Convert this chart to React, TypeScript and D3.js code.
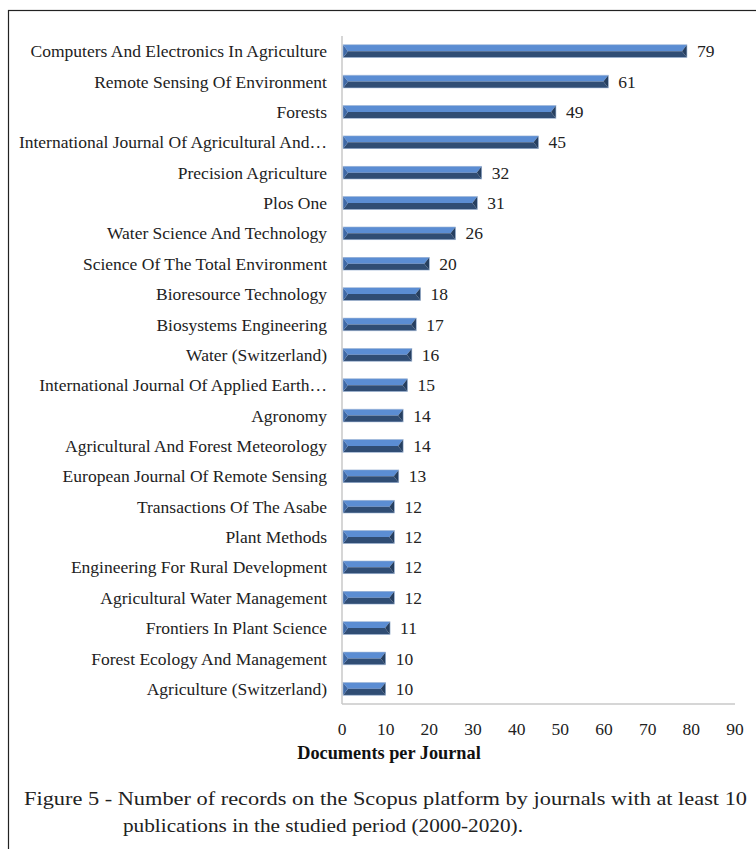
import React, { useEffect, useRef } from 'react';
import * as d3 from 'd3';

const journals = [
  'Computers And Electronics In Agriculture',
  'Remote Sensing Of Environment',
  'Forests',
  'International Journal Of Agricultural And…',
  'Precision Agriculture',
  'Plos One',
  'Water Science And Technology',
  'Science Of The Total Environment',
  'Bioresource Technology',
  'Biosystems Engineering',
  'Water (Switzerland)',
  'International Journal Of Applied Earth…',
  'Agronomy',
  'Agricultural And Forest Meteorology',
  'European Journal Of Remote Sensing',
  'Transactions Of The Asabe',
  'Plant Methods',
  'Engineering For Rural Development',
  'Agricultural Water Management',
  'Frontiers In Plant Science',
  'Forest Ecology And Management',
  'Agriculture (Switzerland)',
];
const documents = [79, 61, 49, 45, 32, 31, 26, 20, 18, 17, 16, 15, 14, 14, 13, 12, 12, 12, 12, 11, 10, 10];
const xTicks = [0, 10, 20, 30, 40, 50, 60, 70, 80, 90];

const W = 756;
const H = 849;
const serif = '"Liberation Serif", "Times New Roman", serif';

export default function App() {
  const svgRef = useRef<SVGSVGElement>(null);

  useEffect(() => {
    if (!svgRef.current) return;
    const svg = d3.select(svgRef.current);
    svg.selectAll('*').remove();

    const left = 342;
    const right = 735;
    const top = 36;
    const bottom = 704;

    // frame around the figure
    svg.append('rect')
      .attr('x', 8.5).attr('y', 10.5)
      .attr('width', 800).attr('height', 900)
      .attr('fill', 'none')
      .attr('stroke', '#222')
      .attr('stroke-width', 1.2);

    const x = d3.scaleLinear().domain([0, 90]).range([left, right]);
    const y = d3.scaleBand<string>()
      .domain(journals)
      .range([top, bottom])
      .paddingInner(0.58)
      .paddingOuter(0.29);

    const g = svg.append('g');

    // axes lines
    g.append('line')
      .attr('x1', left).attr('x2', right)
      .attr('y1', bottom).attr('y2', bottom)
      .attr('stroke', '#c8c8c8').attr('stroke-width', 1.5);
    g.append('line')
      .attr('x1', left).attr('x2', left)
      .attr('y1', top).attr('y2', bottom)
      .attr('stroke', '#c8c8c8').attr('stroke-width', 1.5);

    // bars with bevelled look
    const h = y.bandwidth();
    const d = 5;
    journals.forEach((name, i) => {
      const x0 = x(0) + 1;
      const x1 = x(documents[i]);
      const y0 = y(name)!;
      const mid = y0 + h / 2;
      const y1 = y0 + h;
      const bar = g.append('g');
      bar.append('polygon')
        .attr('points', `${x0},${y0} ${x1},${y0} ${x1 - d},${mid} ${x0 + d},${mid}`)
        .attr('fill', '#5b8dd3');
      bar.append('polygon')
        .attr('points', `${x0 + d},${mid} ${x1 - d},${mid} ${x1},${y1} ${x0},${y1}`)
        .attr('fill', '#304d74');
      bar.append('polygon')
        .attr('points', `${x0},${y0} ${x0 + d},${mid} ${x0},${y1}`)
        .attr('fill', '#3f69a6');
      bar.append('polygon')
        .attr('points', `${x1},${y0} ${x1},${y1} ${x1 - d},${mid}`)
        .attr('fill', '#263f60');
      bar.append('rect')
        .attr('x', x0).attr('y', y0)
        .attr('width', x1 - x0).attr('height', h)
        .attr('fill', 'none')
        .attr('stroke', '#9fb6d6').attr('stroke-width', 0.6);

      g.append('text')
        .attr('x', x1 + 10)
        .attr('y', mid)
        .attr('dy', '0.35em')
        .attr('font-family', serif)
        .attr('font-size', 17.5)
        .attr('fill', '#222')
        .text(documents[i]);

      g.append('text')
        .attr('x', left - 15)
        .attr('y', mid)
        .attr('dy', '0.35em')
        .attr('text-anchor', 'end')
        .attr('font-family', serif)
        .attr('font-size', 17.5)
        .attr('fill', '#222')
        .text(name);
    });

    // x tick labels
    xTicks.forEach(t => {
      g.append('text')
        .attr('x', x(t))
        .attr('y', 729)
        .attr('dy', '0.35em')
        .attr('text-anchor', 'middle')
        .attr('font-family', serif)
        .attr('font-size', 17.5)
        .attr('fill', '#222')
        .text(t);
    });

    g.append('text')
      .attr('x', 389)
      .attr('y', 753)
      .attr('dy', '0.35em')
      .attr('text-anchor', 'middle')
      .attr('font-family', serif)
      .attr('font-size', 18.3)
      .attr('font-weight', 'bold')
      .attr('fill', '#111')
      .text('Documents per Journal');

    // caption
    svg.append('text')
      .attr('x', 24)
      .attr('y', 805)
      .attr('font-family', serif)
      .attr('font-size', 19)
      .attr('fill', '#222')
      .attr('textLength', 723)
      .attr('lengthAdjust', 'spacingAndGlyphs')
      .text('Figure 5 - Number of records on the Scopus platform by journals with at least 10');
    svg.append('text')
      .attr('x', 123)
      .attr('y', 832)
      .attr('font-family', serif)
      .attr('font-size', 19)
      .attr('fill', '#222')
      .attr('textLength', 400)
      .attr('lengthAdjust', 'spacingAndGlyphs')
      .text('publications in the studied period (2000-2020).');
  }, []);

  return (
    <svg
      ref={svgRef}
      width={W}
      height={H}
      style={{ position: 'absolute', left: 0, top: 0, background: '#fff' }}
    />
  );
}
